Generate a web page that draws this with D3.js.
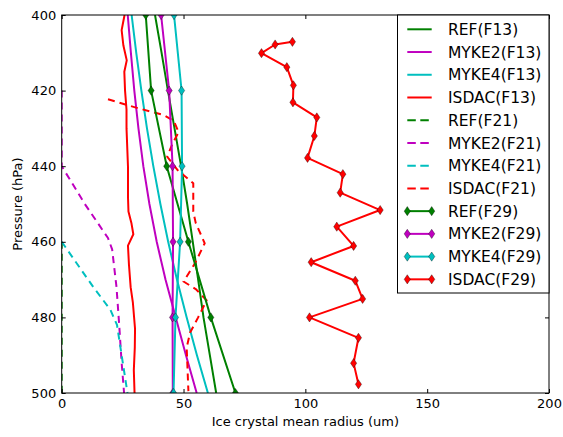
<!DOCTYPE html>
<html>
<head>
<meta charset="utf-8">
<script src="https://cdn.jsdelivr.net/npm/d3@7"></script>
<style>
  html, body { margin: 0; padding: 0; background: #fff; }
  svg { display: block; font-family: "DejaVu Sans", sans-serif; }
</style>
</head>
<body>
<svg id="chart" width="563" height="437"></svg>
<script>
// ---------------- DATA ----------------
const xTicks = [0, 50, 100, 150, 200];
const yTicks = [400, 420, 440, 460, 480, 500];

// F13 (solid, no markers)
const F13_P = [400, 410, 420, 430, 440, 450, 460, 470, 480, 490, 500];
const REF_F13 = [38.3, 41.0, 43.6, 46.3, 49.0, 51.5, 53.8, 56.0, 58.2, 60.8, 63.4];
const MYKE2_F13 = [27.1, 28.4, 29.8, 31.5, 33.5, 36.0, 39.0, 42.6, 46.8, 51.0, 55.4];
const MYKE4_F13 = [28.7, 30.6, 32.7, 35.0, 37.6, 40.5, 43.7, 47.3, 51.3, 55.5, 60.0];
const ISDAC_F13_P = [400, 402, 404, 408, 412, 415, 420, 425, 430, 440, 448, 452, 455, 458, 461, 466, 472, 476, 483, 488, 494, 500];
const ISDAC_F13 = [25.8, 25.2, 24.6, 25.3, 26.7, 25.7, 26.0, 26.6, 26.6, 27.2, 27.2, 27.4, 28.6, 29.4, 27.2, 27.6, 28.3, 29.2, 30.1, 30.0, 29.6, 29.9];

// F21 (dashed)
const REF_F21_P = [460, 480, 500];
const REF_F21 = [0, 0, 0];
const MYKE2_F21_P = [420, 430, 440, 450, 459, 462, 472, 482, 492, 500];
const MYKE2_F21 = [0, 0, 0, 9.5, 19.0, 20.7, 22.5, 23.6, 24.6, 25.6];
const MYKE4_F21_P = [460, 466, 472, 478, 482, 490, 500];
const MYKE4_F21 = [0, 6.5, 13.0, 20.0, 22.7, 24.6, 27.0];
const ISDAC_F21_P = [422.3, 424.5, 426.5, 428, 431, 434, 437.5, 441, 444.5, 449, 452, 455, 460.4, 465.7, 470.5, 472.5, 475.5, 480, 484, 488, 499.5];
const ISDAC_F21 = [19.0, 30.5, 42.0, 46.0, 48.0, 45.5, 43.3, 47.5, 54.0, 54.0, 54.0, 55.0, 58.7, 54.7, 50.0, 55.0, 59.5, 56.0, 52.7, 51.3, 52.0];

// F29 (solid with diamond markers)
const F29_P = [400, 420, 440, 460, 480, 500];
const REF_F29 = [34.5, 36.7, 43.1, 52.0, 61.2, 71.3];
const MYKE2_F29 = [40.8, 44.1, 45.5, 45.7, 45.5, 45.6];
const MYKE4_F29 = [46.1, 49.2, 49.4, 48.6, 46.7, 45.9];
const ISDAC_F29_P = [407.1, 407.8, 410.1, 413.8, 418.6, 423.1, 427.1, 432.0, 437.8, 442.1, 447.0, 451.6, 456.0, 461.1, 465.4, 470.3, 475.1, 480.0, 485.4, 492.1, 497.7];
const ISDAC_F29 = [94.7, 87.6, 82.0, 92.4, 95.1, 94.9, 104.7, 103.7, 100.9, 115.4, 114.3, 130.7, 112.9, 119.8, 102.4, 120.5, 123.5, 101.7, 121.8, 119.8, 121.8];

const COLORS = { REF: "#008000", MYKE2: "#bf00bf", MYKE4: "#00bfbf", ISDAC: "#ff0000" };

// ---------------- SERIES TABLE ----------------
const series = [
  { name: "REF(F13)",   color: COLORS.REF,   p: F13_P,       r: REF_F13,   dash: null, marker: false },
  { name: "MYKE2(F13)", color: COLORS.MYKE2, p: F13_P,       r: MYKE2_F13, dash: null, marker: false },
  { name: "MYKE4(F13)", color: COLORS.MYKE4, p: F13_P,       r: MYKE4_F13, dash: null, marker: false },
  { name: "ISDAC(F13)", color: COLORS.ISDAC, p: ISDAC_F13_P, r: ISDAC_F13, dash: null, marker: false },
  { name: "REF(F21)",   color: COLORS.REF,   p: REF_F21_P,   r: REF_F21,   dash: "7,5", marker: false },
  { name: "MYKE2(F21)", color: COLORS.MYKE2, p: MYKE2_F21_P, r: MYKE2_F21, dash: "7,5", marker: false },
  { name: "MYKE4(F21)", color: COLORS.MYKE4, p: MYKE4_F21_P, r: MYKE4_F21, dash: "7,5", marker: false },
  { name: "ISDAC(F21)", color: COLORS.ISDAC, p: ISDAC_F21_P, r: ISDAC_F21, dash: "7,5", marker: false },
  { name: "REF(F29)",   color: COLORS.REF,   p: F29_P,       r: REF_F29,   dash: null, marker: true },
  { name: "MYKE2(F29)", color: COLORS.MYKE2, p: F29_P,       r: MYKE2_F29, dash: null, marker: true },
  { name: "MYKE4(F29)", color: COLORS.MYKE4, p: F29_P,       r: MYKE4_F29, dash: null, marker: true },
  { name: "ISDAC(F29)", color: COLORS.ISDAC, p: ISDAC_F29_P, r: ISDAC_F29, dash: null, marker: true }
];

// ---------------- LAYOUT ----------------
const L = 61.7, R = 549, T = 15, B = 393;
const svg = d3.select("#chart");
const x = d3.scaleLinear().domain([0, 200]).range([L, R]);
const y = d3.scaleLinear().domain([400, 500]).range([T, B]);

svg.append("defs").append("clipPath").attr("id", "clip")
  .append("rect").attr("x", L).attr("y", T).attr("width", R - L).attr("height", B - T);

const diamond = "M0,-4.6L3.1,0L0,4.6L-3.1,0Z";

const plot = svg.append("g").attr("clip-path", "url(#clip)");
const line = d3.line().x(d => x(d[0])).y(d => y(d[1]));

series.forEach(s => {
  const pts = s.r.map((v, i) => [v, s.p[i]]);
  plot.append("path")
    .attr("d", line(pts))
    .attr("fill", "none")
    .attr("stroke", s.color)
    .attr("stroke-width", 2)
    .attr("stroke-dasharray", s.dash)
    .attr("stroke-linejoin", "round");
  if (s.marker) {
    plot.selectAll(null).data(pts).enter().append("path")
      .attr("d", diamond)
      .attr("transform", d => `translate(${x(d[0])},${y(d[1])})`)
      .attr("fill", s.color)
      .attr("stroke", "#000")
      .attr("stroke-opacity", 0.7)
      .attr("stroke-width", 0.5);
  }
});

// ---------------- AXES ----------------
const fontTick = "13px";
const axB = svg.append("g").attr("transform", `translate(0,${B})`)
  .call(d3.axisBottom(x).tickValues(xTicks).tickSizeInner(-4).tickSizeOuter(0).tickPadding(6).tickFormat(d3.format("d")));
const axT = svg.append("g").attr("transform", `translate(0,${T})`)
  .call(d3.axisTop(x).tickValues(xTicks).tickSizeInner(-4).tickSizeOuter(0).tickFormat(""));
const axLft = svg.append("g").attr("transform", `translate(${L},0)`)
  .call(d3.axisLeft(y).tickValues(yTicks).tickSizeInner(-4).tickSizeOuter(0).tickPadding(5.5).tickFormat(d3.format("d")));
const axRgt = svg.append("g").attr("transform", `translate(${R},0)`)
  .call(d3.axisRight(y).tickValues(yTicks).tickSizeInner(-4).tickSizeOuter(0).tickFormat(""));

[axB, axT, axLft, axRgt].forEach(g => {
  g.select(".domain").remove();
  g.selectAll(".tick line").attr("stroke", "#000").attr("stroke-width", 1);
  g.selectAll("text").attr("font-size", fontTick).attr("fill", "#000")
    .attr("font-family", "DejaVu Sans, sans-serif");
});

svg.append("rect")
  .attr("x", L).attr("y", T).attr("width", R - L).attr("height", B - T)
  .attr("fill", "none").attr("stroke", "#000").attr("stroke-width", 1);

svg.append("text")
  .attr("x", (L + R) / 2).attr("y", 426.2)
  .attr("text-anchor", "middle").attr("font-size", "13px")
  .text("Ice crystal mean radius (um)");

svg.append("text")
  .attr("transform", `translate(21.5,${(T + B) / 2}) rotate(-90)`)
  .attr("text-anchor", "middle").attr("font-size", "13px")
  .text("Pressure (hPa)");

// ---------------- LEGEND ----------------
const lg = svg.append("g");
lg.append("rect")
  .attr("x", 397.5).attr("y", T).attr("width", R - 397.5).attr("height", 293 - T)
  .attr("fill", "#fff").attr("stroke", "#000").attr("stroke-width", 1);

const legY0 = 29.3, legDy = 22.73;
series.forEach((s, i) => {
  const yy = legY0 + i * legDy;
  lg.append("line")
    .attr("x1", 407.3).attr("x2", 431.7).attr("y1", yy).attr("y2", yy)
    .attr("stroke", s.color).attr("stroke-width", 2)
    .attr("stroke-dasharray", s.dash ? "8.5,4.5" : null);
  if (s.marker) {
    [407.3, 431.7].forEach(mx => {
      lg.append("path").attr("d", diamond)
        .attr("transform", `translate(${mx},${yy})`)
        .attr("fill", s.color).attr("stroke", "#000")
        .attr("stroke-opacity", 0.7).attr("stroke-width", 0.5);
    });
  }
  lg.append("text")
    .attr("x", 448).attr("y", yy).attr("dy", "0.36em")
    .attr("font-size", "15.5px")
    .text(s.name);
});
</script>
</body>
</html>
